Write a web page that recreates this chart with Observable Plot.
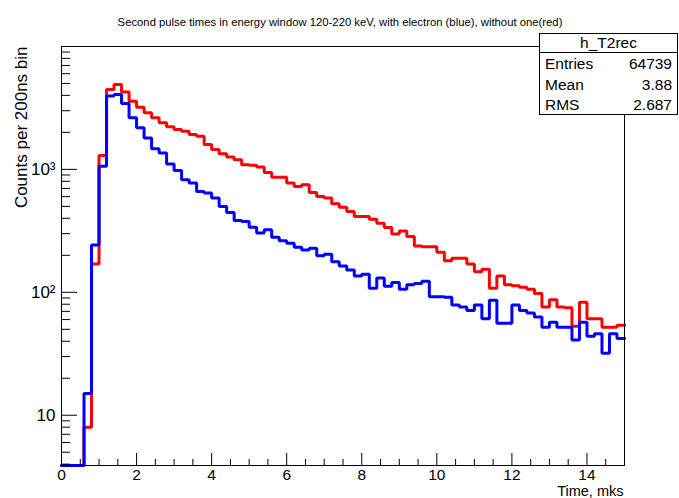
<!DOCTYPE html>
<html><head><meta charset="utf-8">
<script src="https://cdn.jsdelivr.net/npm/d3@7"></script>
<script src="https://cdn.jsdelivr.net/npm/@observablehq/plot@0.6"></script>
<style>
body{margin:0;background:#fff;font-family:"Liberation Sans",Arial,sans-serif}
#wrap{position:relative;width:679px;height:498px;overflow:hidden}
#stats{position:absolute;left:539px;top:33px;width:137px;height:80px;border:1px solid #000;background:#fff;font-size:15.5px;color:#000}
#stats .hd{height:18px;line-height:18px;text-align:center;border-bottom:1px solid #000}
#stats .row{height:20.5px;line-height:21px;display:flex;justify-content:space-between;padding:0 5px 0 5px}
</style></head><body><div id="wrap"></div>
<script>
const title = "Second pulse times in energy window 120-220 keV, with electron (blue), without one(red)";
const histName = "h_T2rec";
const statNames = ["Entries", "Mean", "RMS"];
const statValues = ["64739", "3.88", "2.687"];
const xLabel = "Time, mks";
const yLabel = "Counts per 200ns bin";
const binWidth = 0.2; // 200 ns bins from 0 to 15 mks
const redCounts = [0,0,0,8,170,1294,4470,4910,4256,3590,3206,2884,2630,2393,2218,2108,2042,1919,1858,1591,
  1448,1343,1262,1200,1092,1078,1046,945,861,861,774,726,750,649,602,584,525,493,454,413,
  413,393,365,336,298,316,284,238,235,235,212,181,189,189,170,147,154,108,136,115,
  113,110,106,98,76,87,76,75,53,83,61,61,52,52,54];
const blueCounts = [0,0,0,15,242,1058,3945,4070,3433,2630,2178,1804,1475,1361,1107,981,824,774,661,641,
  585,499,446,383,376,339,303,322,281,263,251,233,221,228,198,204,177,164,152,136,
  140,108,131,112,120,106,115,118,123,92,92,91,79,76,71,79,61,86,56,56,
  79,71,68,63,52,57,52,52,41,57,44,46,32,46,42];
const xDomain = [0, 15];
const yDomain = [3.9, 9990];
const xMajorTicks = [0, 2, 4, 6, 8, 10, 12, 14];
const xMinorTicks = [0.5,1,1.5,2.5,3,3.5,4.5,5,5.5,6.5,7,7.5,8.5,9,9.5,10.5,11,11.5,12.5,13,13.5,14.5];
const yMajorTicks = [10, 100, 1000];
const yTickLabels = ["10", "10²", "10³"];
const yMinorTicks = [4,5,6,7,8,9,20,30,40,50,60,70,80,90,200,300,400,500,600,700,800,900,2000,3000,4000,5000,6000,7000,8000,9000];

function steps(counts) {
  const pts = [];
  counts.forEach((v, i) => {
    pts.push({t: i * binWidth, v});
    pts.push({t: (i + 1) * binWidth, v});
  });
  return pts;
}
const red = steps(redCounts);
const blue = steps(blueCounts);

const W = 679, H = 498;
const mL = 61, mR = 55, mT = 46, mB = 33;
const fw = W - mL - mR, fh = H - mT - mB;
const yv = d => Math.max(d.v, yDomain[0]);

const chart = Plot.plot({
  width: W, height: H,
  marginLeft: mL, marginRight: mR, marginTop: mT, marginBottom: mB,
  style: {fontFamily: "Liberation Sans, Arial, sans-serif", background: "#fff", color: "#000"},
  x: {domain: xDomain, label: null},
  y: {type: "log", domain: yDomain, label: null},
  marks: [
    Plot.line(red, {x: "t", y: yv, stroke: "#ff0000", strokeWidth: 3, strokeLinejoin: "miter", curve: "linear"}),
    Plot.line(blue, {x: "t", y: yv, stroke: "#0000ff", strokeWidth: 3, strokeLinejoin: "miter", curve: "linear"}),
    Plot.frame({stroke: "#000", strokeWidth: 1}),
    Plot.tickX(xMajorTicks, {x: d => d, insetTop: fh - 12, stroke: "#000"}),
    Plot.tickX(xMinorTicks, {x: d => d, insetTop: fh - 6, stroke: "#000"}),
    Plot.tickY(yMajorTicks, {y: d => d, insetRight: fw - 16, stroke: "#000"}),
    Plot.tickY(yMinorTicks, {y: d => d, insetRight: fw - 9, stroke: "#000"}),
    Plot.axisX({ticks: xMajorTicks, tickSize: 0, tickPadding: 3, fontSize: 15.5, label: null}),
    Plot.axisY({ticks: yMajorTicks, tickSize: 0, tickPadding: 6, fontSize: 17, label: null,
      tickFormat: d => yTickLabels[yMajorTicks.indexOf(d)]}),
    Plot.text([xLabel], {frameAnchor: "bottom-right", textAnchor: "end", lineAnchor: "bottom", dy: 30, dx: -1, fontSize: 14.5}),
    Plot.text([yLabel], {frameAnchor: "top-left", rotate: -90, textAnchor: "end", dx: -47, fontSize: 17}),
    Plot.text([title], {frameAnchor: "top", dy: -29, dx: -3, fontSize: 11.3})
  ]
});
const wrap = document.getElementById("wrap");
wrap.appendChild(chart);
const box = document.createElement("div");
box.id = "stats";
box.innerHTML = `<div class="hd">${histName}</div>` +
  statNames.map((n, i) => `<div class="row"><span>${n}</span><span>${statValues[i]}</span></div>`).join("");
wrap.appendChild(box);
</script>
</body></html>
